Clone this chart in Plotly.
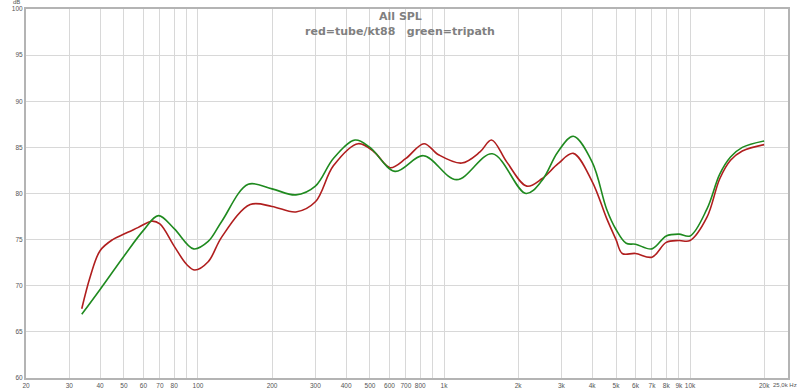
import math
import plotly.graph_objects as go

# ---- data ----
red_freq = [33.7, 36.5, 40, 45, 50, 57, 65, 70, 80, 90, 97, 110, 125, 163, 200, 250,
            300, 355, 448, 520, 604, 700, 829, 950, 1180, 1400, 1560, 1800, 2170, 2500,
            2900, 3350, 4000, 4580, 5000, 5300, 6000, 7000, 8000, 9000, 10000, 11700,
            13200, 14600, 16300, 20000]
red_spl = [67.5, 71.0, 73.8, 75.0, 75.6, 76.3, 77.0, 76.7, 74.3, 72.3, 71.7, 72.6, 75.3, 78.8, 78.6, 78.0,
           79.1, 83.0, 85.4, 84.5, 82.8, 83.8, 85.4, 84.2, 83.3, 84.5, 85.8, 83.4, 80.8, 81.6,
           83.2, 84.35, 81.3, 77.3, 75.0, 73.5, 73.5, 73.1, 74.7, 74.9, 74.9, 77.4,
           81.6, 83.6, 84.6, 85.3]

green_freq = [33.7, 40, 50, 60, 69, 80, 96, 110, 125, 160, 200, 250, 300, 355, 435, 500,
              632, 824, 1125, 1571, 2153, 2500, 2900, 3352, 4000, 4580, 5000, 5500, 6000,
              7000, 8000, 9000, 10000, 11700, 13200, 14600, 16300, 20000]
green_spl = [66.9, 69.6, 73.2, 76.0, 77.6, 76.2, 74.0, 74.8, 77.0, 81.0, 80.5, 79.85, 80.8, 83.8, 85.8, 85.0,
             82.4, 84.1, 81.5, 84.3, 80.0, 81.4, 84.5, 86.2, 83.4, 78.3, 76.1, 74.6, 74.5,
             74.0, 75.4, 75.6, 75.4, 78.3, 82.1, 83.95, 85.0, 85.7]

x_tickvals = [20, 30, 40, 50, 60, 70, 80, 90, 100, 200, 300, 400, 500, 600, 700, 800, 900,
              1000, 2000, 3000, 4000, 5000, 6000, 7000, 8000, 9000, 10000, 20000]
x_ticktext = ["20", "30", "40", "50", "60", "70", "80", "", "100", "200", "300", "400", "500",
              "600", "700", "800", "", "1k", "2k", "3k", "4k", "5k", "6k", "7k", "8k", "9k",
              "10k", "20k"]
y_tickvals = [60, 65, 70, 75, 80, 85, 90, 95, 100]

title_text = "All SPL"
subtitle_text = "red=tube/kt88\u00a0\u00a0\u00a0green=tripath"
x_unit_text = "25,0k Hz"
y_unit_text = "dB"

fig = go.Figure()
fig.add_trace(go.Scatter(x=red_freq, y=red_spl, mode="lines", name="tube/kt88",
                         line=dict(color="#b01e1e", width=1.6, shape="spline", smoothing=1.0)))
fig.add_trace(go.Scatter(x=green_freq, y=green_spl, mode="lines", name="tripath",
                         line=dict(color="#1f8a1f", width=1.6, shape="spline", smoothing=1.0)))

tick_fam = "Liberation Sans, Arial, sans-serif"
title_fam = "DejaVu Sans, sans-serif"
tick_size = 6.5
L, R, T, B = 26, 12, 9, 14
W, H = 800, 392
cx = (400 - L) / (W - L - R)

fig.update_layout(
    width=W, height=H,
    margin=dict(l=L, r=R, t=T, b=B, autoexpand=False),
    paper_bgcolor="white", plot_bgcolor="white",
    showlegend=False,
    font=dict(family=tick_fam, size=tick_size, color="#555555"),
    xaxis=dict(type="log", range=[math.log10(20), math.log10(25000)],
               tickmode="array", tickvals=x_tickvals, ticktext=x_ticktext,
               tickangle=0, automargin=False,
               showgrid=True, gridcolor="#d8d8d8", gridwidth=1,
               showline=True, linecolor="#b4b4b4", linewidth=2, mirror=True,
               ticks="", ticklen=0, zeroline=False,
               tickfont=dict(size=tick_size, color="#555555", family=tick_fam)),
    yaxis=dict(range=[60, 100], tickmode="array", tickvals=y_tickvals,
               automargin=False,
               showgrid=True, gridcolor="#d8d8d8", gridwidth=1,
               showline=True, linecolor="#b4b4b4", linewidth=2, mirror=True,
               ticks="", ticklen=0, zeroline=False,
               tickfont=dict(size=tick_size, color="#555555", family=tick_fam)),
    annotations=[
        dict(text=title_text, xref="paper", yref="paper", x=cx, y=1, yshift=-7,
             xanchor="center", yanchor="middle", showarrow=False,
             font=dict(size=11, color="#808080", family=title_fam, weight="bold")),
        dict(text=subtitle_text, xref="paper", yref="paper", x=cx, y=1, yshift=-22,
             xanchor="center", yanchor="middle", showarrow=False,
             font=dict(size=11, color="#808080", family=title_fam, weight="bold")),
        dict(text=y_unit_text, xref="paper", yref="paper", x=0, y=1, xshift=-10, yshift=7,
             xanchor="center", yanchor="middle", showarrow=False,
             font=dict(size=6, color="#555555", family=tick_fam)),
        dict(text=x_unit_text, xref="paper", yref="paper", x=1, y=0, xshift=11, yshift=-7,
             xanchor="right", yanchor="middle", showarrow=False,
             font=dict(size=6, color="#555555", family=tick_fam)),
    ],
)

fig.write_html("out.html", config={"displayModeBar": False},
               post_script="document.body.style.margin='0';document.body.style.overflow='hidden';")
